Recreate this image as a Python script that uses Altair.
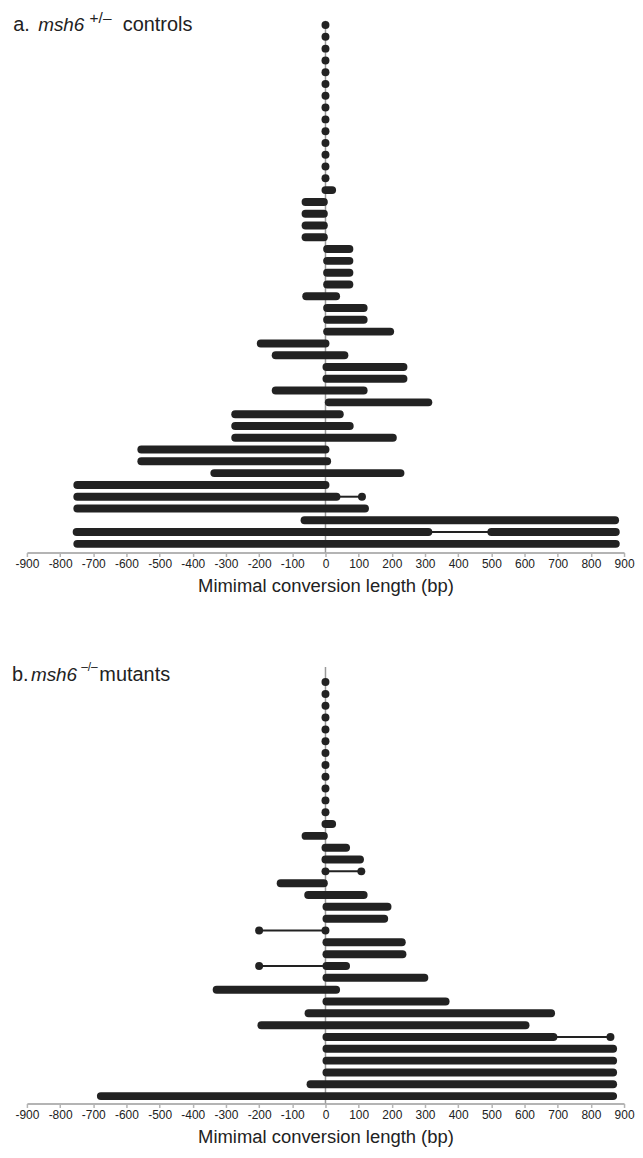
import altair as alt
import pandas as pd

# ---------------- Panel a: msh6 +/- controls (45 tracts, row 1 = top) ----------------
A_THICK_ROW = [15, 16, 17, 18, 19, 20, 21, 22, 23, 24, 25, 26, 27, 28, 29, 30, 31, 32,
               33, 34, 35, 36, 37, 38, 39, 40, 41, 42, 43, 44, 44, 45]
A_THICK_START = [0, -60, -60, -60, -60, 5, 5, 5, 5, -58, 5, 5, 5, -195, -150, 3, 3, -150,
                 10, -272, -272, -272, -555, -555, -335, -748, -748, -748, -63, -750, 500, -748]
A_THICK_END = [20, -5, -5, -5, -5, 72, 72, 72, 72, 32, 115, 115, 195, 0, 57, 235, 235, 115,
               310, 43, 73, 203, 0, 5, 226, 0, 33, 119, 873, 310, 875, 875]
A_THIN_ROW = [41, 44]
A_THIN_START = [33, 310]
A_THIN_END = [110, 500]
A_DOT_ROW = [1, 2, 3, 4, 5, 6, 7, 8, 9, 10, 11, 12, 13, 14, 41]
A_DOT_X = [0, 0, 0, 0, 0, 0, 0, 0, 0, 0, 0, 0, 0, 0, 110]

# ---------------- Panel b: msh6 -/- mutants (36 tracts, row 1 = top) ----------------
B_THICK_ROW = [13, 14, 15, 16, 18, 19, 20, 21, 23, 24, 25, 26, 27, 28, 29, 30, 31,
               32, 33, 34, 35, 36]
B_THICK_START = [0, -60, 0, 0, -135, -52, 3, 3, 3, 3, 3, 3, -328, 3, -51, -193, 3,
                 3, 3, 3, -45, -677]
B_THICK_END = [20, -5, 62, 104, -5, 115, 187, 177, 230, 232, 62, 298, 32, 362, 680, 603, 687,
               867, 867, 867, 867, 867]
B_THIN_ROW = [17, 22, 25, 31]
B_THIN_START = [0, -200, -200, 687]
B_THIN_END = [108, 0, 3, 859]
B_DOT_ROW = [1, 2, 3, 4, 5, 6, 7, 8, 9, 10, 11, 12, 17, 17, 22, 22, 25, 31]
B_DOT_X = [0, 0, 0, 0, 0, 0, 0, 0, 0, 0, 0, 0, 0, 108, -200, 0, -200, 859]

TICKS = list(range(-900, 901, 100))
X_TITLE = "Mimimal conversion length (bp)"

FONT = "Liberation Sans"
INK = "#222222"
W = 600


def panel(thick_row, thick_s, thick_e, thin_row, thin_s, thin_e, dot_row, dot_x,
          ydom, height, title_parts):
    thick = pd.DataFrame({"row": thick_row, "start": thick_s, "end": thick_e})
    thin = pd.DataFrame({"row": thin_row, "start": thin_s, "end": thin_e})
    dots = pd.DataFrame({"row": dot_row, "x": dot_x})

    xscale = alt.Scale(domain=[-900, 900], nice=False, zero=False)
    yscale = alt.Scale(domain=ydom, reverse=True, nice=False, zero=False)
    xaxis = alt.Axis(values=TICKS, title=X_TITLE, labelExpr="'' + datum.value",
                     grid=False, domainColor="#b4b4b4", domainWidth=2,
                     tickColor="#b4b4b4", tickSize=4, tickWidth=1.5,
                     labelFont=FONT, labelFontSize=12, labelColor=INK,
                     labelPadding=2.5, labelFlush=False, labelOverlap=False,
                     titleFont=FONT, titleFontSize=18.5, titleFontWeight="normal",
                     titleColor=INK, titlePadding=7)

    zero = alt.Chart(pd.DataFrame({"z": [0]})).mark_rule(
        color="#999999", strokeWidth=1.5
    ).encode(x=alt.X("z:Q", scale=xscale, axis=xaxis), y=alt.value(0), y2=alt.value(height))

    thin_l = alt.Chart(thin).mark_rule(color=INK, strokeWidth=2).encode(
        x=alt.X("start:Q", scale=xscale, axis=xaxis), x2="end:Q",
        y=alt.Y("row:Q", scale=yscale, axis=None))

    thick_l = alt.Chart(thick).mark_rule(color=INK, strokeWidth=8, strokeCap="round").encode(
        x=alt.X("start:Q", scale=xscale, axis=xaxis), x2="end:Q",
        y=alt.Y("row:Q", scale=yscale, axis=None))

    dot_l = alt.Chart(dots).mark_circle(color=INK, size=64, opacity=1).encode(
        x=alt.X("x:Q", scale=xscale, axis=xaxis),
        y=alt.Y("row:Q", scale=yscale, axis=None))

    layers = [zero, thin_l, thick_l, dot_l]
    for txt, px, py, size, style in title_parts:
        layers.append(
            alt.Chart(pd.DataFrame({"t": [txt]})).mark_text(
                align="left", baseline="alphabetic", font=FONT, fontSize=size,
                fontStyle=style, color=INK
            ).encode(text="t:N", x=alt.value(px), y=alt.value(py))
        )
    return alt.layer(*layers).properties(width=W, height=height)


TITLE_A = [("a.", -13.7, 10.7, 20, "normal"),
           ("msh6", 11.3, 10.7, 19, "italic"),
           ("+/\u2013", 63, 2.7, 15.5, "normal"),
           ("controls", 96.3, 10.7, 20, "normal")]
TITLE_B = [("b.", -15, 13.7, 20, "normal"),
           ("msh6", 4, 13.7, 19, "italic"),
           ("\u2013/\u2013", 54.5, 4.5, 12, "normal"),
           ("mutants", 72.8, 13.7, 20, "normal")]

pa = panel(A_THICK_ROW, A_THICK_START, A_THICK_END, A_THIN_ROW, A_THIN_START, A_THIN_END,
           A_DOT_ROW, A_DOT_X, [0.629, 45.734], 534.4, TITLE_A)
pb = panel(B_THICK_ROW, B_THICK_START, B_THICK_END, B_THIN_ROW, B_THIN_START, B_THIN_END,
           B_DOT_ROW, B_DOT_X, [-0.287, 36.623], 438.7, TITLE_B)

chart = alt.vconcat(pa, pb, spacing=65.3).properties(
    padding={"left": 4, "top": 0, "right": 0, "bottom": 0}
).configure(background="white", view=alt.ViewConfig(stroke=None))

chart.save("out.html", embed_options={"renderer": "svg", "actions": False})
